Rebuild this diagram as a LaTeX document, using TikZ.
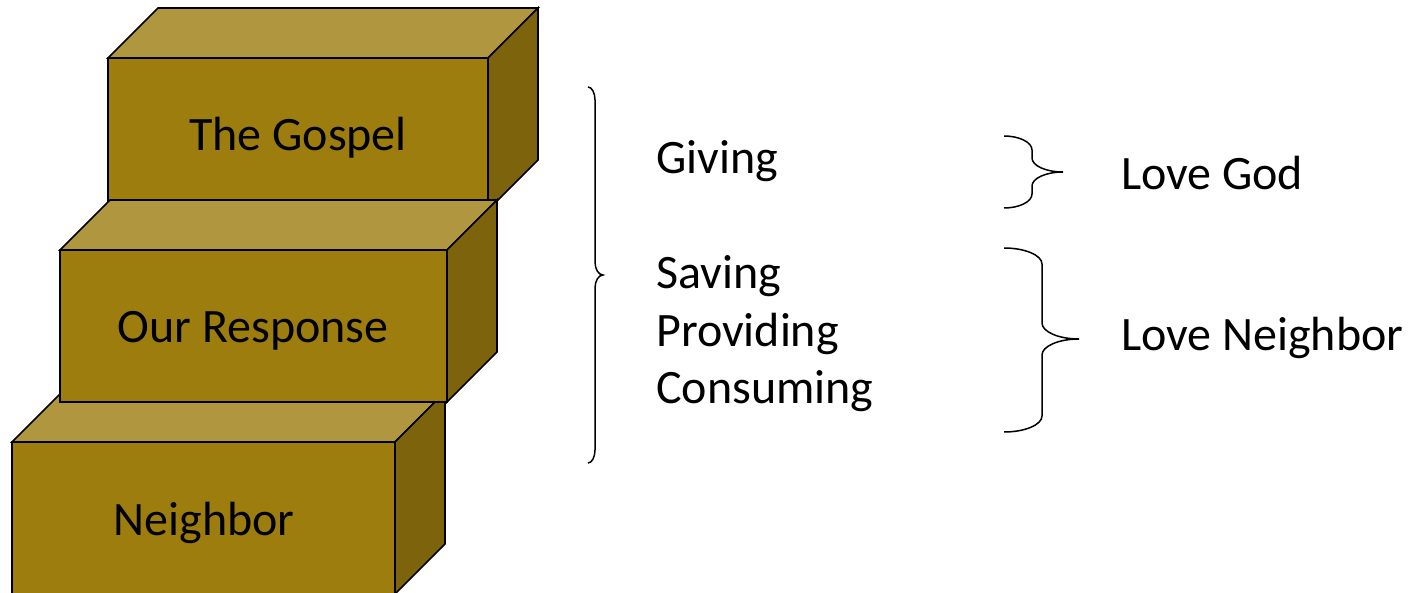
\documentclass[tikz,border=0pt]{standalone}
\usepackage{fontspec}
\setmainfont{Carlito}
\definecolor{frontc}{RGB}{157,125,14}
\definecolor{topc}{RGB}{176,150,62}
\definecolor{sidec}{RGB}{125,100,12}
% #1=x1 #2=y1 #3=x2 #4=y2 #5=depth
\newcommand\cubeblock[5]{%
  \filldraw[blockline,fill=topc] (#1,#2) -- (#1+#5,#2-#5) -- (#3+#5,#2-#5) -- (#3,#2) -- cycle;
  \filldraw[blockline,fill=sidec] (#3,#2) -- (#3+#5,#2-#5) -- (#3+#5,#4-#5) -- (#3,#4) -- cycle;
  \filldraw[blockline,fill=frontc] (#1,#2) rectangle (#3,#4);
}
% #1=left #2=stem x #3=tip x #4=top #5=middle #6=bottom #7=curve height
\newcommand\rightbrace[7]{%
  \draw[braceline] (#1,#4) .. controls ({#1+0.55*(#2-#1)},#4) and (#2,{#4+0.45*#7}) .. (#2,#4+#7)
    -- (#2,#5-#7) .. controls (#2,{#5-0.45*#7}) and ({#2+0.45*(#3-#2)},#5) .. (#3,#5)
    .. controls ({#2+0.45*(#3-#2)},#5) and (#2,{#5+0.45*#7}) .. (#2,#5+#7)
    -- (#2,#6-#7) .. controls (#2,{#6-0.45*#7}) and ({#1+0.55*(#2-#1)},#6) .. (#1,#6);
}
\begin{document}
\begin{tikzpicture}[x=1pt,y=-1pt,
  blockline/.style={draw=black,line width=1.6pt,line join=miter},
  braceline/.style={draw=black,line width=1.5pt},
  lbl/.style={font=\fontsize{48pt}{58pt}\selectfont,inner sep=0pt,text=black}]
\useasboundingbox (0,0) rectangle (1410,593);
% blocks
\cubeblock{108}{58}{488}{210}{50}
\cubeblock{12}{442}{395}{594}{50}
\cubeblock{60}{250}{447}{402}{50}
\node[lbl,anchor=base] (gospel) at (298,151) {The Gospel};
\node[lbl,anchor=base] (response) at (253,342) {Our Response};
\node[lbl,anchor=base] (neighbor) at (204,535) {Neighbor};
% big brace
\rightbrace{588}{595}{603}{87}{275}{463}{13}
\node[lbl,anchor=base west] (giving) at (656,174) {Giving};
\node[lbl,anchor=base west] (saving) at (656,289) {Saving};
\node[lbl,anchor=base west] (providing) at (656,346.5) {Providing};
\node[lbl,anchor=base west] (consuming) at (656,403.5) {Consuming};
% small braces
\rightbrace{1004}{1032}{1063}{136}{172}{208}{14}
\rightbrace{1004}{1042}{1079}{248}{339}{432}{16}
\node[lbl,anchor=base west] (lovegod) at (1121,190) {Love God};
\node[lbl,anchor=base west] (loveneighbor) at (1121,350) {Love Neighbor};
\end{tikzpicture}
\end{document}
